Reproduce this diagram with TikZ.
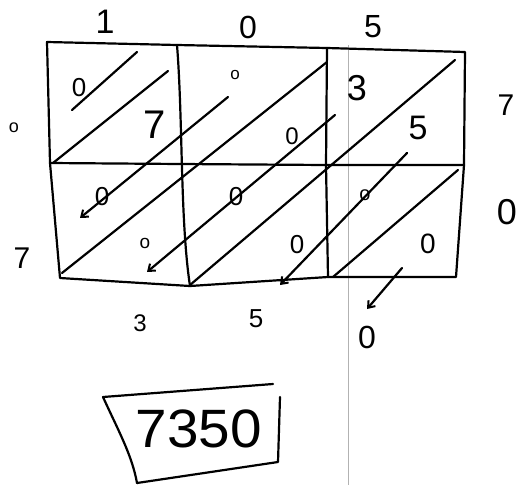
\documentclass[tikz,border=0pt]{standalone}
\usepackage{fontspec}
\setmainfont{Liberation Sans}
\usetikzlibrary{arrows.meta}
\begin{document}
\begin{tikzpicture}[x=1pt,y=-1pt,
  pen/.style={line width=2.2pt,line cap=round,line join=round},
  arr/.style={pen,-{Straight Barb[length=6pt,width=9pt,line width=2pt]}},
  dig/.style={inner sep=0pt,font=\fontsize{#1}{#1}\selectfont},
  dig/.default=26]
\useasboundingbox (0,0) rectangle (519,485);
% faint scan line
\draw[gray!60,line width=0.6pt] (348,45) -- (348,485);
% grid
\coordinate (tl) at (47,42);
\coordinate (tm1) at (177,45);
\coordinate (tm2) at (327,48);
\coordinate (tr) at (465,52);
\coordinate (ml) at (50,163);
\coordinate (mm1) at (181,164);
\coordinate (mm2) at (326,165);
\coordinate (mr) at (464,165);
\coordinate (bl) at (60,278);
\coordinate (bm1) at (190,286);
\coordinate (bm2) at (328,277);
\coordinate (br) at (456,277);
\draw[pen] (tl) -- (tm1) -- (tm2) -- (tr) -- (mr) -- (br) -- (bm2) -- (bm1) -- (bl) -- (ml) -- cycle;
\draw[pen] (ml) -- (mm1) -- (mm2) -- (mr);
\draw[pen] (tm1) .. controls (183,120) and (180,220) .. (bm1);
\draw[pen] (tm2) -- (mm2) -- (bm2);
% diagonals
\coordinate (d1a) at (53,163); \coordinate (d1b) at (168,71);
\draw[pen] (d1a) -- (d1b);
\coordinate (d2a) at (62,273); \coordinate (d2b) at (327,62);
\draw[pen] (d2a) -- (d2b);
\coordinate (d3a) at (190,285); \coordinate (d3b) at (455,60);
\draw[pen] (d3a) -- (d3b);
\coordinate (d4a) at (333,277); \coordinate (d4b) at (458,170);
\draw[pen] (d4a) -- (d4b);
% arrows
\coordinate (a1s) at (228,97); \coordinate (a1e) at (80,218);
\draw[arr] (a1s) -- (a1e);
\coordinate (a2s) at (335,115); \coordinate (a2e) at (147,272);
\draw[arr] (a2s) -- (a2e);
\coordinate (a3s) at (407,153); \coordinate (a3e) at (280,285);
\draw[arr] (a3s) -- (a3e);
\coordinate (a4s) at (402,268); \coordinate (a4e) at (367,309);
\draw[arr] (a4s) -- (a4e);
% strike through first 0
\coordinate (s1a) at (72,110); \coordinate (s1b) at (137,52);
\draw[pen] (s1a) -- (s1b);
% top labels
\node[dig=34] (t1) at (105,22) {1};
\node[dig=32] (t0) at (248,27) {0};
\node[dig=32] (t5) at (373,27) {5};
% left labels
\node[dig=18] (l0) at (14,128) {o};
\node[dig=30] (l7) at (22,258) {7};
% right labels
\node[dig=30] (r7) at (506,105) {7};
\node[dig=36] (r0) at (507,212) {0};
% cell digits
\node[dig=26] (c11a) at (79,88) {0};
\node[dig=40] (c11b) at (155,125) {7};
\node[dig=17] (c12a) at (235,75) {o};
\node[dig=24] (c12b) at (292,136) {0};
\node[dig=36] (c13a) at (357,88) {3};
\node[dig=34] (c13b) at (418,128) {5};
\node[dig=26] (c21a) at (102,197) {0};
\node[dig=19] (c21b) at (145,243) {o};
\node[dig=26] (c22a) at (236,197) {0};
\node[dig=26] (c22b) at (297,245) {0};
\node[dig=20] (c23a) at (365,195) {o};
\node[dig=28] (c23b) at (428,244) {0};
% bottom labels
\node[dig=24] (b3) at (140,323) {3};
\node[dig=26] (b5) at (256,319) {5};
\node[dig=32] (b0) at (367,337) {0};
% answer box
\coordinate (xa) at (103,397);
\coordinate (xb) at (273,384);
\coordinate (xc) at (280,397);
\coordinate (xd) at (278,462);
\coordinate (xe) at (137,483);
\draw[pen] (xa) -- (xb);
\draw[pen] (xc) -- (xd) -- (xe);
\draw[pen] (xa) .. controls (118,430) and (132,455) .. (xe);
\node[dig=54,xscale=1.05] (ans) at (199,429) {7350};
\end{tikzpicture}
\end{document}
